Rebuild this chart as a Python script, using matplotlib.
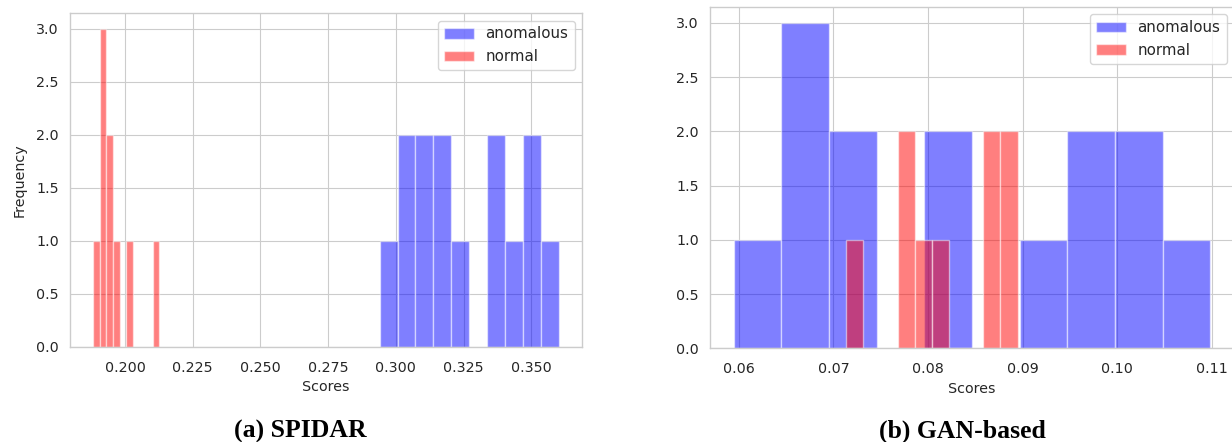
import numpy as np
import matplotlib
matplotlib.use("Agg")
import matplotlib.pyplot as plt

# histogram bins: (first edge, last edge) and 10 counts
spidar_anom_range = (0.2940, 0.3601)
spidar_anom_counts = [1, 2, 2, 2, 1, 0, 2, 1, 2, 1]
spidar_norm_range = (0.1883, 0.2127)
spidar_norm_counts = [1, 3, 2, 1, 0, 1, 0, 0, 0, 1]

gan_anom_range = (0.05947, 0.1098)
gan_anom_counts = [1, 3, 2, 0, 2, 0, 1, 2, 2, 1]
gan_norm_range = (0.07135, 0.08945)
gan_norm_counts = [1, 0, 0, 2, 1, 1, 0, 0, 2, 2]

spidar_xticks = [0.200, 0.225, 0.250, 0.275, 0.300, 0.325, 0.350]
gan_xticks = [0.06, 0.07, 0.08, 0.09, 0.10, 0.11]
captions = ["(a) SPIDAR", "(b) GAN-based"]

plt.style.use("seaborn-v0_8-whitegrid")
plt.rcParams.update({
    "font.family": "DejaVu Sans",
    "font.size": 10.3,
    "legend.fontsize": 10.8,
    "text.color": ".15",
    "axes.labelcolor": ".15",
    "xtick.color": ".15",
    "ytick.color": ".15",
    "xtick.major.pad": 10,
    "ytick.major.pad": 8,
    "axes.edgecolor": ".8",
    "grid.color": ".8",
    "patch.force_edgecolor": True,
    "patch.edgecolor": "w",
})

fig = plt.figure(figsize=(12.32, 4.42), dpi=100)
ax1 = fig.add_axes([70 / 1232, 95 / 442, 512 / 1232, 334 / 442])
ax2 = fig.add_axes([710 / 1232, 93.7 / 442, 524 / 1232, 341.6 / 442])


def draw_hist(ax, rng, counts, color, label):
    edges = np.linspace(rng[0], rng[1], len(counts) + 1)
    centers = (edges[:-1] + edges[1:]) / 2
    ax.hist(centers, bins=edges, weights=counts, color=color, alpha=0.5,
            edgecolor="white", linewidth=1, label=label)


draw_hist(ax1, spidar_anom_range, spidar_anom_counts, "blue", "anomalous")
draw_hist(ax1, spidar_norm_range, spidar_norm_counts, "red", "normal")
draw_hist(ax2, gan_anom_range, gan_anom_counts, "blue", "anomalous")
draw_hist(ax2, gan_norm_range, gan_norm_counts, "red", "normal")

ax1.set_xticks(spidar_xticks)
ax1.set_xticklabels([f"{v:.3f}" for v in spidar_xticks])
ax2.set_xticks(gan_xticks)
ax2.set_xticklabels([f"{v:.2f}" for v in gan_xticks])

for ax in (ax1, ax2):
    ax.set_yticks(np.arange(0, 3.01, 0.5))
    ax.set_xlabel("Scores", labelpad=4)
    ax.legend(loc="upper right", frameon=True)
    ax.set_axisbelow(True)
ax1.set_ylabel("Frequency", labelpad=7)

fig.text(300 / 1232, 0.01, captions[0], ha="center", va="baseline",
         family="Liberation Serif", weight="bold", size=18.5, color="black")
fig.text(962 / 1232, 0.01, captions[1], ha="center", va="baseline",
         family="Liberation Serif", weight="bold", size=18.5, color="black")

fig.savefig("out.png", dpi=100)
